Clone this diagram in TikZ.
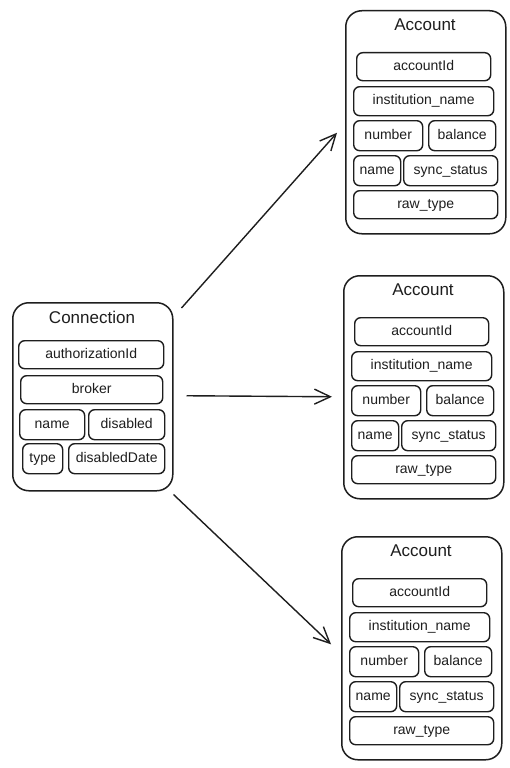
\documentclass[tikz,border=0pt]{standalone}
\usepackage{fontspec}
\setmainfont{Liberation Sans}
\usetikzlibrary{arrows.meta}
\definecolor{ink}{HTML}{1E1E1E}
\newcommand\acfield[6]{\node[fieldbox,minimum width=#4pt,minimum height=#5pt] (#1) at (#2,#3) {#6};}
\begin{document}
\begin{tikzpicture}[x=1pt,y=-1pt,
  outerbox/.style={draw=ink,line width=1.5pt,rounded corners=16pt,anchor=north west,inner sep=0pt},
  fieldbox/.style={draw=ink,line width=1.4pt,rounded corners=6pt,anchor=north west,inner sep=0pt,font=\fontsize{14}{16}\selectfont,text=ink,text height=10pt,text depth=3pt},
  titletext/.style={font=\fontsize{17}{20}\selectfont,text=ink,inner sep=0pt},
  arr/.style={draw=ink,line width=1.4pt,-{Straight Barb[length=16pt,width=15pt]}}]
\useasboundingbox (0,0) rectangle (509,768);
\fill[white] (0,0) rectangle (509,768);

% Connection
\node[outerbox,minimum width=160pt,minimum height=188pt] (conn) at (12,302) {};
\node[titletext] (conntitle) at (92,317) {Connection};
\acfield{cauth}{18}{340}{145}{28}{authorizationId}
\acfield{cbroker}{20}{375}{142}{28}{broker}
\acfield{cname}{19}{409}{65}{30}{name}
\acfield{cdis}{88}{409}{76}{30}{disabled}
\acfield{ctype}{22}{443}{40}{30}{type}
\acfield{cdate}{68}{443}{96}{30}{disabledDate}

% Accounts
\foreach \i/\dx/\dy in {1/345/10, 2/343/275, 3/341/536}{
  \begin{scope}[shift={(\dx,\dy)}]
    \node[outerbox,minimum width=160pt,minimum height=223pt] (acc\i) at (0,0) {};
    \node[titletext] (acc\i title) at (80,15) {Account};
    \acfield{acc\i id}{11}{42}{134}{28}{accountId}
    \acfield{acc\i inst}{8}{76}{140}{29}{institution\_name}
    \acfield{acc\i num}{8}{110}{69}{30}{number}
    \acfield{acc\i bal}{83}{110}{67}{30}{balance}
    \acfield{acc\i name}{8}{145}{47}{30}{name}
    \acfield{acc\i sync}{58}{145}{94}{30}{sync\_status}
    \acfield{acc\i raw}{8}{180}{144}{28}{raw\_type}
  \end{scope}
}

% Arrows
\draw[arr] ([xshift=8pt,yshift=-6pt]conn.north east) -- ([xshift=-8pt,yshift=-10.5pt]acc1.west);
\draw[arr] ([xshift=13pt,yshift=1pt]conn.east) -- ([xshift=-11pt,yshift=-9.5pt]acc2.west);
\draw[arr] ([xshift=0pt,yshift=-3pt]conn.south east) -- ([xshift=-10pt,yshift=4pt]acc3.west);
\end{tikzpicture}
\end{document}
